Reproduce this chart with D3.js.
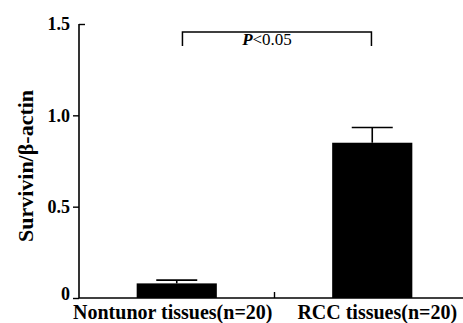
<!DOCTYPE html>
<html><head><meta charset="utf-8">
<script src="https://cdn.jsdelivr.net/npm/d3@7"></script>
<style>body{margin:0;background:#fff}svg{display:block}
svg text{font-family:'Liberation Serif','Times New Roman',Times,'DejaVu Serif',serif !important;fill:#000}</style>
</head><body><svg id="c" width="463" height="323"></svg>
<script>
const categories = ["Nontunor tissues(n=20)", "RCC tissues(n=20)"];
const means = [0.08, 0.85];
const errors = [0.018, 0.083];
const yTicks = [0, 0.5, 1.0, 1.5];
const yTickLabels = ["0", "0.5", "1.0", "1.5"];
const sigLabel = "<0.05";

const svg = d3.select("#c");
const x0 = 79, x1 = 470, yb = 298, yt = 24;
const x = d3.scaleBand().domain(categories).range([x0, x1]).paddingInner(0.59).paddingOuter(0.295);
const y = d3.scaleLinear().domain([0, 1.5]).range([yb, yt]);

// bars
svg.selectAll("rect.bar").data(categories).enter().append("rect")
  .attr("x", d => x(d)).attr("width", x.bandwidth())
  .attr("y", (d, i) => y(means[i])).attr("height", (d, i) => y(0) - y(means[i]))
  .attr("fill", "#000");

// error bars
const capW = 41;
categories.forEach((c, i) => {
  const cx = x(c) + x.bandwidth() / 2;
  svg.append("line").attr("x1", cx).attr("x2", cx).attr("y1", y(means[i])).attr("y2", y(means[i] + errors[i]))
    .attr("stroke", "#000").attr("stroke-width", 1.6);
  svg.append("line").attr("x1", cx - capW / 2).attr("x2", cx + capW / 2).attr("y1", y(means[i] + errors[i])).attr("y2", y(means[i] + errors[i]))
    .attr("stroke", "#000").attr("stroke-width", 1.6);
});

// y axis
const ya = svg.append("g").attr("transform", `translate(${x0},0)`)
  .call(d3.axisLeft(y).tickValues(yTicks).tickSize(6).tickFormat((d, i) => yTickLabels[i]));
ya.attr("font-family", null);
ya.select(".domain").attr("stroke-width", 1.6).attr("d", `M0,${yb}V${yt}`);
ya.selectAll(".tick line").attr("stroke-width", 1.4);
ya.selectAll(".tick").filter(d => d === 1.5).select("line").attr("x2", 6);
ya.selectAll(".tick text").attr("font-size", 18)
  .attr("font-weight", "bold").attr("x", -9).attr("dy", "0.32em");
ya.selectAll(".tick").filter(d => d === 0).select("text").attr("dy", "0.1em");

// x axis
const xa = svg.append("g").attr("transform", `translate(0,${yb})`)
  .call(d3.axisBottom(x).tickSize(0).tickFormat(""));
xa.select(".domain").attr("stroke-width", 1.6).attr("d", `M${x0},0H${x1}`);
const midX = (x(categories[0]) + x(categories[1]) + x.bandwidth()) / 2;
svg.append("line").attr("x1", midX).attr("x2", midX).attr("y1", yb).attr("y2", yb - 6)
  .attr("stroke", "#000").attr("stroke-width", 1.4);

// x labels
const labelShift = [-4, 5];
svg.selectAll("text.xl").data(categories).enter().append("text")
  .attr("x", (d, i) => x(d) + x.bandwidth() / 2 + labelShift[i]).attr("y", 319)
  .attr("text-anchor", "middle").attr("font-size", 20).attr("font-weight", "bold").text(d => d);

// y label
svg.append("text").attr("transform", "translate(33,166) rotate(-90)")
  .attr("text-anchor", "middle").attr("font-size", 22).attr("font-weight", "bold")
  .text("Survivin/β-actin");

// significance bracket
const bx1 = x(categories[0]) + x.bandwidth() / 2 + 5.7, bx2 = x(categories[1]) + x.bandwidth() / 2 - 0.8;
svg.append("path").attr("d", `M${bx1},46V32H${bx2}V46`).attr("fill", "none").attr("stroke", "#000").attr("stroke-width", 1.5);
const st = svg.append("text").attr("x", 267).attr("y", 45).attr("text-anchor", "middle").attr("font-size", 17);
st.append("tspan").attr("font-style", "italic").attr("font-weight", "bold").text("P");
st.append("tspan").text(sigLabel);
</script></body></html>
